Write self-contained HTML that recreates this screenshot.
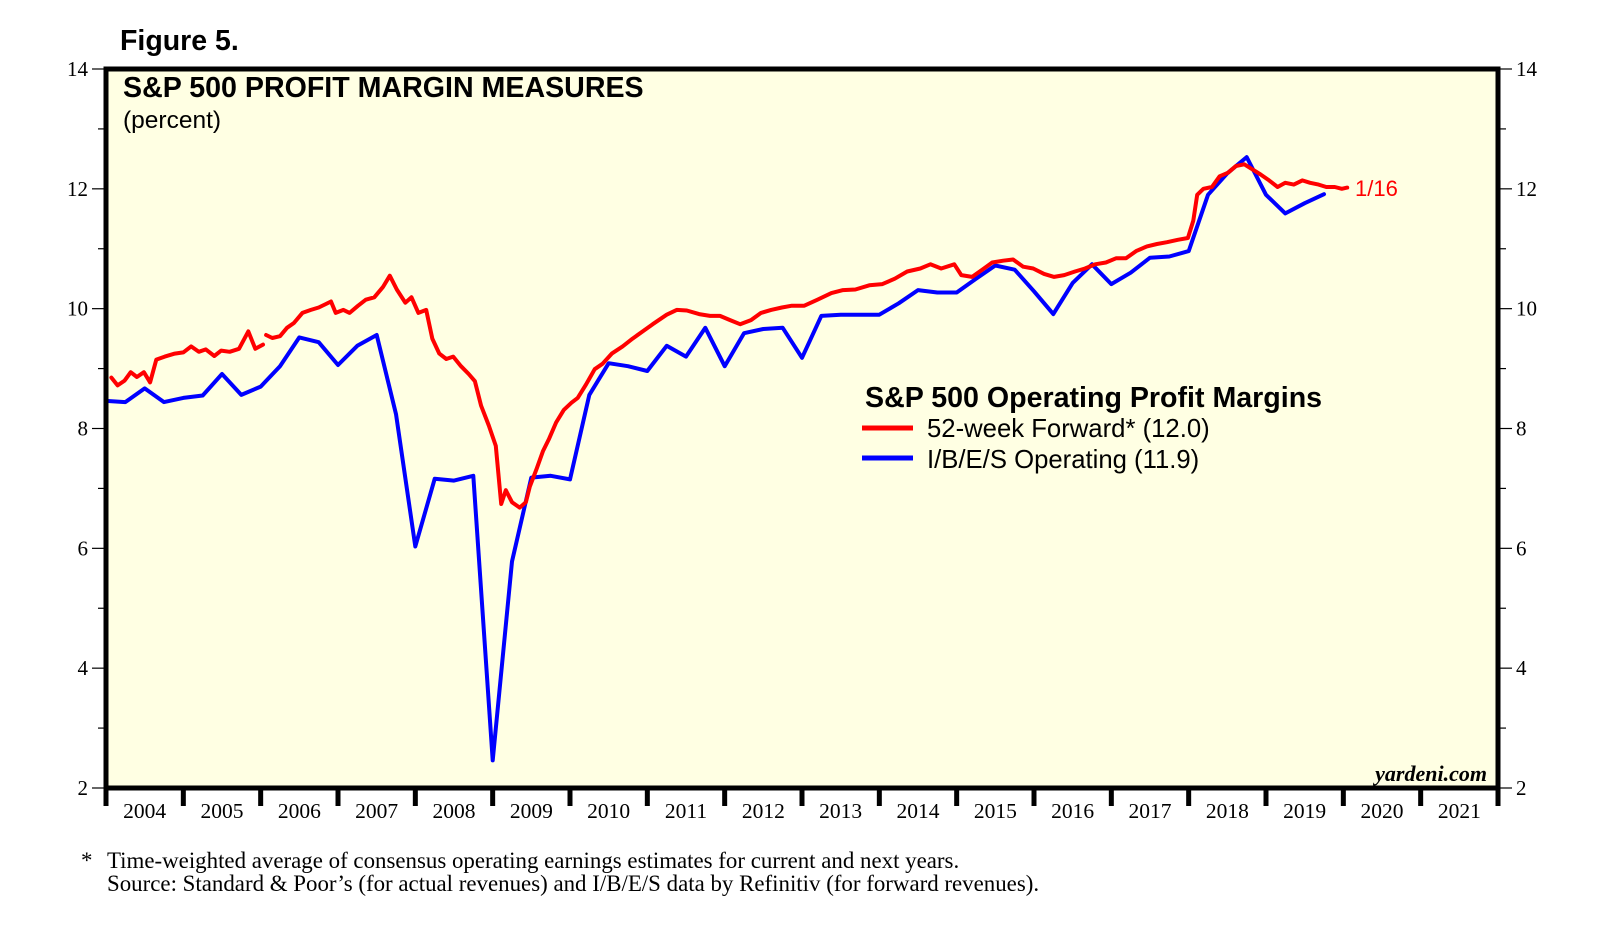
<!DOCTYPE html>
<html><head><meta charset="utf-8"><style>
html,body{margin:0;padding:0;background:#fff;}
svg{display:block;}
.sans{font-family:"Liberation Sans",Arial,sans-serif;}
.serif{font-family:"Liberation Serif","Times New Roman",serif;}
</style></head><body>
<svg id="chart" width="1610" height="950" viewBox="0 0 1610 950" xmlns="http://www.w3.org/2000/svg">
<text x="120" y="50" class="sans" font-size="28.5" font-weight="bold">Figure 5.</text>
<rect x="106" y="69" width="1392" height="719" fill="#ffffe3"/>
<g id="grid"></g>
<g id="series"></g>
<rect x="106" y="69" width="1392" height="719" fill="none" stroke="#000" stroke-width="5"/>
<text x="123" y="97" class="sans" font-size="28.6" font-weight="bold">S&amp;P 500 PROFIT MARGIN MEASURES</text>
<text x="123" y="128" class="sans" font-size="24.5">(percent)</text>
<text x="865" y="407" class="sans" font-size="28.6" font-weight="bold">S&amp;P 500 Operating Profit Margins</text>
<line x1="862" y1="428" x2="913" y2="428" stroke="#ff0000" stroke-width="5"/>
<text x="927" y="437" class="sans" font-size="25.7">52-week Forward* (12.0)</text>
<line x1="862" y1="458" x2="913" y2="458" stroke="#0000ff" stroke-width="5"/>
<text x="927" y="468" class="sans" font-size="25.7">I/B/E/S Operating (11.9)</text>
<text x="1355" y="196" class="sans" font-size="22" fill="#ff0000">1/16</text>
<text x="1487" y="781" class="serif" font-size="22" font-weight="bold" font-style="italic" text-anchor="end">yardeni.com</text>
<text x="81" y="868" class="serif" font-size="22.9">*</text>
<text x="107" y="868" class="serif" font-size="22.9">Time-weighted average of consensus operating earnings estimates for current and next years.</text>
<text x="107" y="891" class="serif" font-size="22.9">Source: Standard &amp; Poor’s (for actual revenues) and I/B/E/S data by Refinitiv (for forward revenues).</text>
</svg>
<script>
const yearLabels=[2004,2005,2006,2007,2008,2009,2010,2011,2012,2013,2014,2015,2016,2017,2018,2019,2020,2021];
const yTicks=[2,4,6,8,10,12,14];
const baseYear=2004;
// I/B/E/S quarterly, starting 2004 Q1
const blueStart=2004.0;
const blueValues=[8.46,8.44,8.67,8.44,8.51,8.55,8.91,8.56,8.70,9.04,9.52,9.44,9.06,9.38,9.56,8.24,6.03,7.16,7.13,7.21,2.46,5.78,7.18,7.21,7.15,8.56,9.09,9.04,8.96,9.38,9.20,9.68,9.04,9.59,9.66,9.68,9.18,9.88,9.90,9.90,9.90,10.09,10.31,10.27,10.27,10.50,10.72,10.65,10.29,9.91,10.43,10.74,10.41,10.60,10.85,10.87,10.96,11.90,12.26,12.53,11.90,11.59,11.76,11.91];
// 52-week forward, two segments (years since 2004)
const red1Years=[0.07,0.15,0.24,0.32,0.40,0.49,0.57,0.65,0.76,0.89,1.00,1.10,1.20,1.29,1.40,1.49,1.60,1.72,1.84,1.93,2.03];
const red1Values=[8.85,8.72,8.80,8.94,8.86,8.94,8.77,9.15,9.20,9.25,9.27,9.37,9.28,9.32,9.21,9.30,9.28,9.33,9.62,9.33,9.40];
const red2Years=[2.07,2.15,2.25,2.34,2.43,2.54,2.65,2.75,2.83,2.91,2.97,3.07,3.15,3.26,3.36,3.47,3.58,3.67,3.76,3.87,3.95,4.04,4.14,4.22,4.31,4.40,4.49,4.59,4.69,4.77,4.85,4.95,5.04,5.11,5.17,5.25,5.35,5.43,5.48,5.57,5.65,5.73,5.82,5.92,6.02,6.10,6.21,6.32,6.42,6.54,6.68,6.81,6.94,7.07,7.25,7.38,7.51,7.67,7.81,7.94,8.07,8.20,8.34,8.47,8.60,8.74,8.87,9.03,9.20,9.38,9.53,9.69,9.87,10.04,10.20,10.36,10.53,10.66,10.80,10.97,11.06,11.20,11.33,11.46,11.60,11.73,11.86,11.99,12.13,12.26,12.39,12.53,12.66,12.79,12.93,13.06,13.19,13.32,13.46,13.59,13.72,13.86,13.99,14.06,14.11,14.19,14.30,14.40,14.51,14.61,14.72,14.83,14.93,15.04,15.15,15.25,15.36,15.47,15.57,15.68,15.78,15.89,15.98,16.05];
const red2Values=[9.56,9.51,9.54,9.68,9.76,9.93,9.98,10.02,10.07,10.12,9.93,9.98,9.93,10.05,10.15,10.19,10.36,10.55,10.32,10.10,10.19,9.93,9.98,9.50,9.25,9.16,9.20,9.04,8.91,8.79,8.38,8.05,7.71,6.74,6.97,6.77,6.68,6.77,7.03,7.33,7.62,7.83,8.10,8.31,8.43,8.51,8.74,8.99,9.08,9.25,9.37,9.50,9.62,9.74,9.90,9.98,9.97,9.91,9.88,9.88,9.81,9.74,9.81,9.93,9.98,10.02,10.05,10.05,10.15,10.26,10.31,10.32,10.39,10.41,10.50,10.62,10.67,10.74,10.67,10.74,10.56,10.53,10.65,10.77,10.80,10.82,10.70,10.67,10.58,10.53,10.56,10.62,10.67,10.74,10.77,10.84,10.84,10.96,11.04,11.08,11.11,11.15,11.18,11.47,11.90,12.00,12.03,12.21,12.27,12.38,12.41,12.32,12.24,12.14,12.03,12.10,12.07,12.14,12.10,12.07,12.03,12.03,12.00,12.02];

const X0=106,X1=1498,Y0=69,Y1=788;
const xMin=2004,xMax=2022,yMin=2,yMax=14;
function xs(t){return X0+(t-xMin)/(xMax-xMin)*(X1-X0);}
function ys(v){return Y1-(v-yMin)/(yMax-yMin)*(Y1-Y0);}
const NS='http://www.w3.org/2000/svg';
function mk(tag,attrs,parent){const e=document.createElementNS(NS,tag);for(const k in attrs)e.setAttribute(k,attrs[k]);parent.appendChild(e);return e;}
const grid=document.getElementById('grid'),series=document.getElementById('series');
for(let v=yMin;v<=yMax;v++){
  const y=ys(v);
  const major=(v%2===0);
  const l1=mk('line',{x1:X0-(major?14:8),x2:X0,y1:y,y2:y,stroke:'#000','stroke-width':1.2},grid);
  
  
  const l2=mk('line',{x1:X1,x2:X1+(major?14:8),y1:y,y2:y,stroke:'#000','stroke-width':1.2},grid);
  
  
}
yTicks.forEach(v=>{
  const t1=mk('text',{x:X0-18,y:ys(v)+7,'text-anchor':'end','font-size':21,class:'serif'},grid);t1.textContent=v;
  
  
  const t2=mk('text',{x:X1+18,y:ys(v)+7,'text-anchor':'start','font-size':21,class:'serif'},grid);t2.textContent=v;
  
  
});
for(let yr=xMin;yr<=xMax;yr++){
  const tk=mk('line',{x1:xs(yr),x2:xs(yr),y1:Y1,y2:Y1+18,stroke:'#000','stroke-width':5},grid);
  
  
}
yearLabels.forEach(yr=>{
  const t=mk('text',{x:xs(yr+0.5),y:818,'text-anchor':'middle','font-size':21.5,class:'serif'},grid);t.textContent=yr;
  
  
});
function path(xsArr,vals,color,name){
  const d=xsArr.map((t,i)=>(i?'L':'M')+xs(t).toFixed(1)+','+ys(vals[i]).toFixed(1)).join(' ');
  const p=mk('path',{d:d,fill:'none',stroke:color,'stroke-width':4,'stroke-linejoin':'round','stroke-linecap':'round'},series);
  
  
}
path(blueValues.map((v,i)=>blueStart+i*0.25),blueValues,'#0000ff','ibes-operating-line');
path(red1Years.map(t=>baseYear+t),red1Values,'#ff0000','forward-margin-line-1');
path(red2Years.map(t=>baseYear+t),red2Values,'#ff0000','forward-margin-line-2');
</script>
</body></html>
